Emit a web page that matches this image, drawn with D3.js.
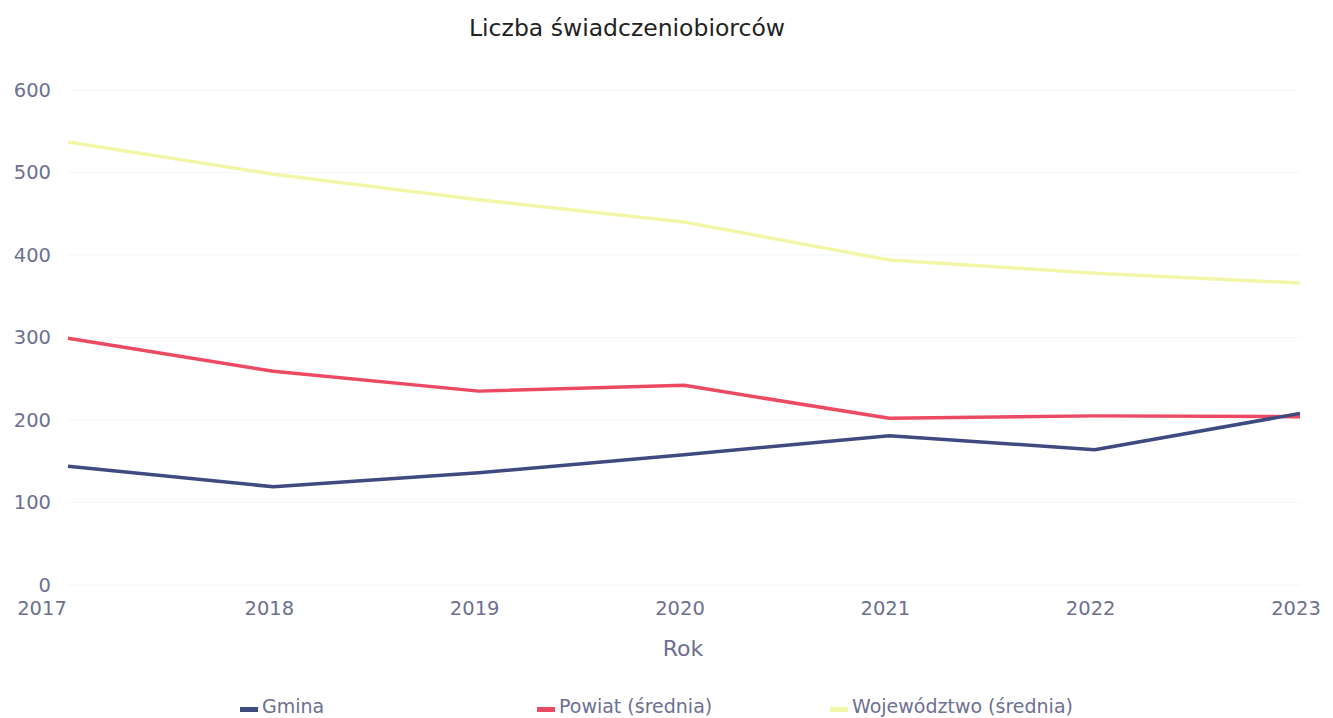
<!DOCTYPE html>
<html>
<head>
<meta charset="utf-8">
<script src="https://d3js.org/d3.v7.min.js"></script>
<style>
    body { margin: 0; background: #fff; }
    text { font-family: "DejaVu Sans", Verdana, sans-serif; }
    .tick-label { fill: #6d7090; font-size: 19.5px; }
</style>
</head>
<body>
<svg width="1333" height="718"></svg>
<script>
// data
var years = [2017, 2018, 2019, 2020, 2021, 2022, 2023];
var gmina = [144, 119, 136, 158, 181, 164, 208];
var powiat = [299, 259, 235, 242, 202, 205, 204];
var wojewodztwo = [537, 498, 467, 440, 394, 378, 366];
var yTicks = [0, 100, 200, 300, 400, 500, 600];

var seriesNames = ["Gmina", "Powiat (średnia)", "Województwo (średnia)"];
var seriesValues = [gmina, powiat, wojewodztwo];
var colors = ["#3f4a80", "#ec4a62", "#f2f6a8"];

var svg = d3.select("svg");

var x = d3.scalePoint()
    .domain(years)
    .range([68, 1300]);

var y = d3.scaleLinear()
    .domain([0, 600])
    .range([585, 90]);

// faint gridlines
svg.append("g")
    .selectAll("line")
    .data(yTicks)
    .enter().append("line")
    .attr("x1", 68).attr("x2", 1300)
    .attr("y1", function (d) { return y(d); })
    .attr("y2", function (d) { return y(d); })
    .attr("stroke", "#f6f6f8")
    .attr("stroke-width", 1);

// title
svg.append("text")
    .attr("x", 627)
    .attr("y", 36)
    .attr("text-anchor", "middle")
    .style("font-size", "23.5px")
    .style("fill", "#222")
    .text("Liczba świadczeniobiorców");

// y tick labels
svg.append("g")
    .selectAll("text")
    .data(yTicks)
    .enter().append("text")
    .attr("class", "tick-label")
    .attr("x", 51)
    .attr("y", function (d) { return y(d); })
    .attr("dy", "0.35em")
    .attr("text-anchor", "end")
    .text(function (d) { return d; });

// x tick labels
svg.append("g")
    .selectAll("text")
    .data(years)
    .enter().append("text")
    .attr("class", "tick-label")
    .attr("x", function (d, i) { return x(d) + (i === 0 ? -26 : -4); })
    .attr("y", 615)
    .attr("text-anchor", "middle")
    .text(function (d) { return d; });

// x axis title
svg.append("text")
    .attr("x", 683)
    .attr("y", 656)
    .attr("text-anchor", "middle")
    .style("font-size", "22px")
    .style("fill", "#6d7090")
    .text("Rok");

var line = d3.line()
    .x(function (d, i) { return x(years[i]); })
    .y(function (d) { return y(d); });

// draw back to front: Województwo, Powiat, Gmina
[2, 1, 0].forEach(function (k) {
    svg.append("path")
        .datum(seriesValues[k])
        .attr("fill", "none")
        .attr("stroke", colors[k])
        .attr("stroke-width", 3.5)
        .attr("stroke-linejoin", "round")
        .attr("d", line);
});

// legend
var legendX = [240, 537, 830];
var legend = svg.append("g");
seriesNames.forEach(function (name, k) {
    legend.append("rect")
        .attr("x", legendX[k])
        .attr("y", 707)
        .attr("width", 18)
        .attr("height", 5)
        .attr("fill", colors[k]);
    legend.append("text")
        .attr("x", legendX[k] + 22)
        .attr("y", 713)
        .style("font-size", "19px")
        .style("fill", "#6d7090")
        .text(name);
});
</script>
</body>
</html>
